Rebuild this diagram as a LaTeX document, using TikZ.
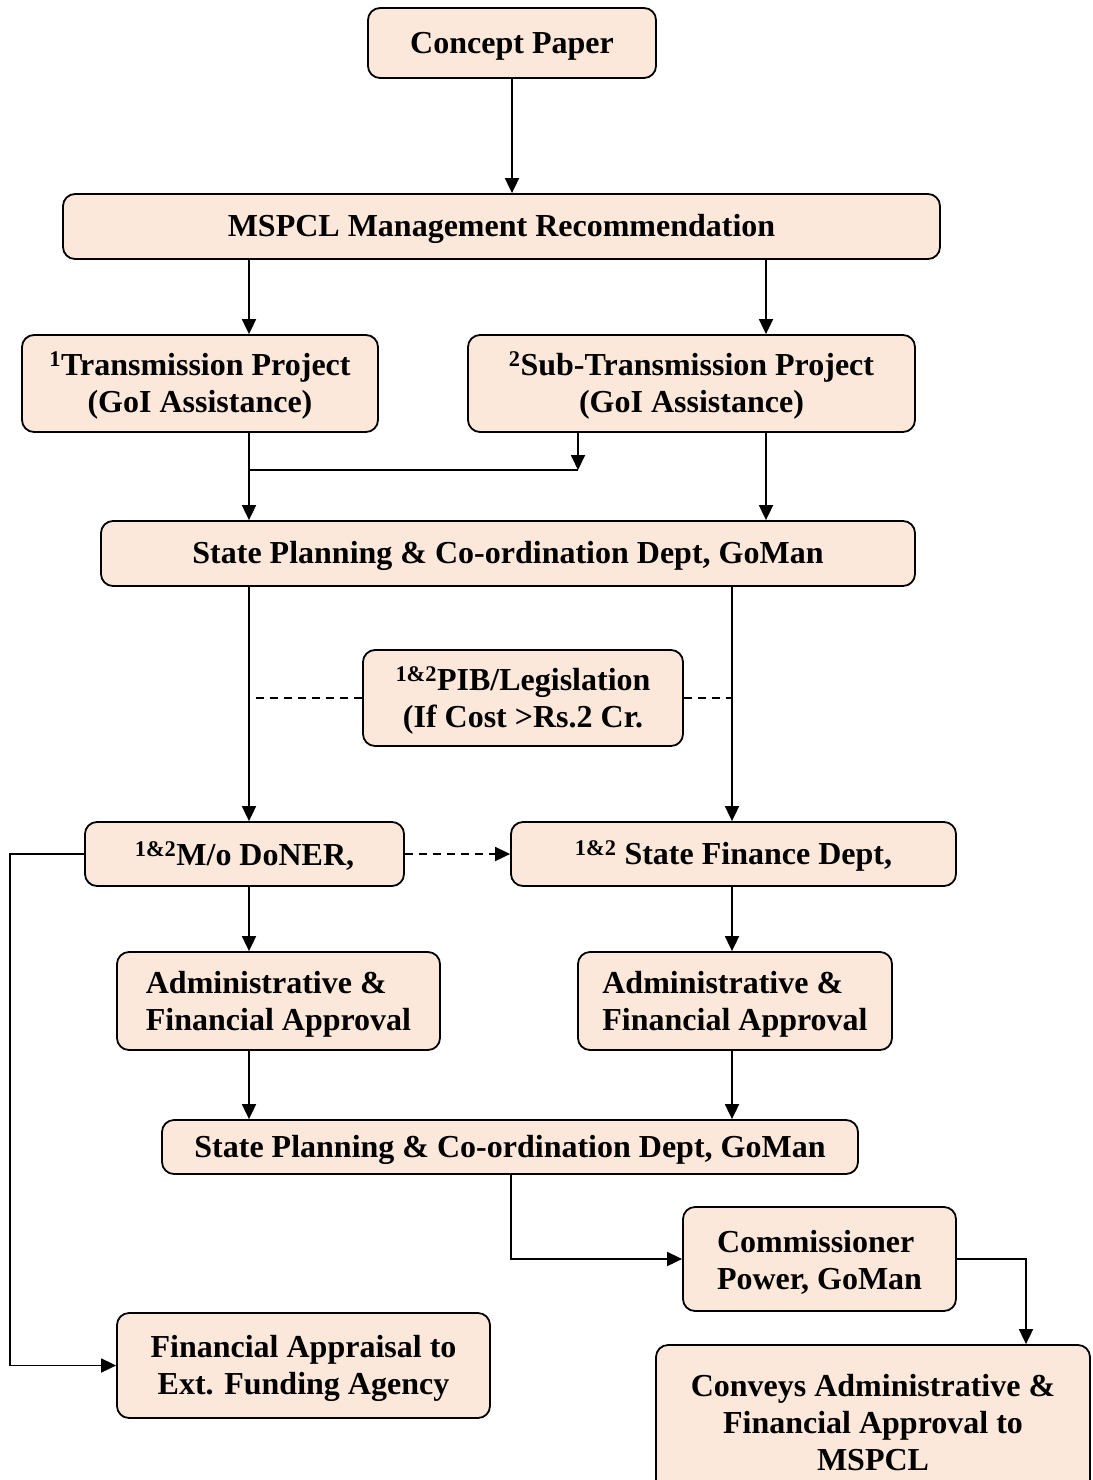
\documentclass[tikz,border=0pt]{standalone}
\usepackage{fontspec}
\setmainfont{Liberation Serif}
\usetikzlibrary{arrows.meta}
\definecolor{peach}{HTML}{FCE8DA}
\newcommand\tpstrut{\rule{0pt}{28pt}}
\begin{document}
\begin{tikzpicture}[x=1pt,y=-1pt,
  box/.style={draw, line width=1.8pt, rounded corners=12pt, fill=peach, inner sep=0pt, align=center,
    font=\bfseries\fontsize{32}{37}\selectfont},
  lbox/.style={box, align=left},
  arr/.style={line width=1.8pt, -{Triangle[length=15pt,width=14pt]}},
  ln/.style={line width=1.8pt},
  dsh/.style={line width=1.5pt, dash pattern=on 8pt off 6pt}]
\clip (0,0) rectangle (1092,1480);
\fill[white] (0,0) rectangle (1092,1480);
\coordinate (xL) at (249,0);
\coordinate (xR) at (766,0);
\coordinate (xM) at (732,0);
\coordinate (xC) at (511,0);
\coordinate (xF) at (10,0);
\coordinate (xK) at (1026,0);
\coordinate (jL) at (249,470);
\coordinate (jR) at (578,470);

\node[box, minimum width=288pt, minimum height=70pt] (concept) at (512,43) {\tpstrut Concept Paper};
\node[box, minimum width=877pt, minimum height=65pt] (mspcl) at (501.5,226.5) {\tpstrut MSPCL Management Recommendation};
\node[box, minimum width=356pt, minimum height=97pt] (trans) at (200,383.5) {\tpstrut\textsuperscript{1}Transmission Project\\(GoI Assistance)};
\node[box, minimum width=447pt, minimum height=97pt] (sub) at (691.5,383.5) {\tpstrut\textsuperscript{2}Sub-Transmission Project\\(GoI Assistance)};
\node[box, minimum width=814pt, minimum height=65pt] (sp1) at (508,553.5) {\tpstrut State Planning \& Co-ordination Dept, GoMan};
\node[box, minimum width=320pt, minimum height=96pt] (pib) at (523,698) {\tpstrut\textsuperscript{1\&2}PIB/Legislation\\(If Cost {>}Rs.2 Cr.};
\node[box, minimum width=319pt, minimum height=64pt] (doner) at (244.5,854) {\tpstrut\textsuperscript{1\&2}M/o DoNER,};
\node[box, minimum width=445pt, minimum height=64pt] (fin) at (733.5,854) {\tpstrut\textsuperscript{1\&2} State Finance Dept,};
\node[lbox, minimum width=323pt, minimum height=98pt] (adl) at (278.5,1001) {\tpstrut Administrative \&\\Financial Approval};
\node[lbox, minimum width=314pt, minimum height=98pt] (adr) at (735,1001) {\tpstrut Administrative \&\\Financial Approval};
\node[box, minimum width=696pt, minimum height=54pt] (sp2) at (510,1147) {\tpstrut State Planning \& Co-ordination Dept, GoMan};
\node[lbox, minimum width=273pt, minimum height=104pt] (comm) at (819.5,1259) {\tpstrut Commissioner\\Power, GoMan};
\node[box, minimum width=373pt, minimum height=105pt] (fa) at (303.5,1365.5) {\tpstrut Financial Appraisal to\\Ext. Funding Agency};
\node[box, minimum width=434pt, minimum height=150pt] (conv) at (873,1420) {\tpstrut Conveys Administrative \&\\Financial Approval to\\MSPCL};

\draw[arr] (concept.south) -- (mspcl.north -| concept.south);
\draw[arr] (mspcl.south -| xL) -- (trans.north -| xL);
\draw[arr] (mspcl.south -| xR) -- (sub.north -| xR);
\draw[arr] (trans.south -| xL) -- (sp1.north -| xL);
\draw[ln] (jL) -- (jR);
\draw[arr] (sub.south -| jR) -- (jR);
\draw[arr] (sub.south -| xR) -- (sp1.north -| xR);
\draw[arr] (sp1.south -| xL) -- (doner.north -| xL);
\draw[arr] (sp1.south -| xM) -- (fin.north -| xM);
\draw[dsh] (pib.west) -- (pib.west -| xL);
\draw[dsh] (pib.east) -- (pib.east -| xM);
\draw[arr, dash pattern=on 8pt off 6pt] (doner.east) -- (fin.west);
\draw[arr] (doner.west) -- (doner.west -| xF) |- (fa.west);
\draw[arr] (doner.south -| xL) -- (adl.north -| xL);
\draw[arr] (fin.south -| xM) -- (adr.north -| xM);
\draw[arr] (adl.south -| xL) -- (sp2.north -| xL);
\draw[arr] (adr.south -| xM) -- (sp2.north -| xM);
\draw[arr] (sp2.south -| xC) |- (comm.west);
\draw[arr] (comm.east) -| (conv.north -| xK);
\end{tikzpicture}
\end{document}
